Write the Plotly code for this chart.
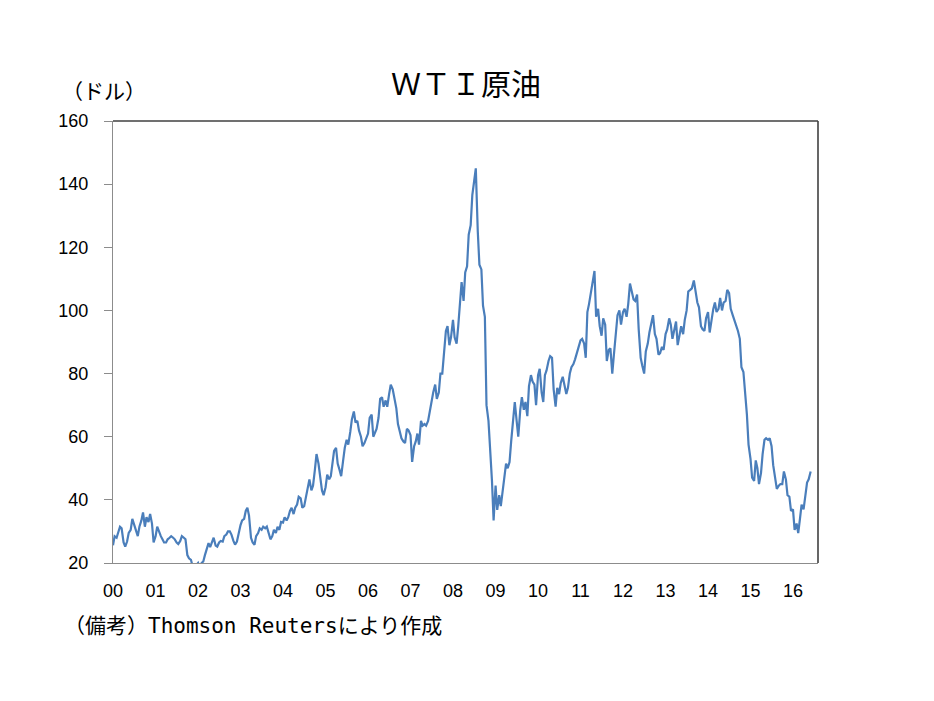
import pandas as pd
import plotly.graph_objects as go

# Semi-monthly WTI prices (1st and 15th of each month), USD/bbl
y2000 = [25.6, 28.5, 28.0, 29.8, 31.5, 31.0, 26.5, 25.2, 26.8, 29.5, 30.5, 34.0,
         32.0, 30.0, 28.5, 31.5, 33.5, 36.0, 31.5, 34.5, 33.0, 35.5, 32.5, 26.5]
y2001 = [28.5, 31.5, 29.5, 28.5, 27.5, 26.5, 26.5, 27.5, 28.0, 28.5, 28.0, 27.5,
         26.5, 26.0, 27.0, 28.5, 28.0, 27.5, 22.5, 21.5, 21.0, 19.0, 19.5, 19.3]
y2002 = [20.0, 18.5, 20.0, 20.5, 22.5, 24.5, 26.3, 25.0, 26.5, 28.0, 25.5, 25.2,
         26.5, 27.0, 26.8, 28.5, 29.0, 30.0, 30.0, 29.0, 27.0, 25.8, 26.8, 29.5]
y2003 = [32.0, 33.5, 34.0, 36.5, 37.5, 35.0, 28.0, 26.5, 25.8, 28.5, 29.5, 31.0,
         30.5, 31.5, 31.0, 31.5, 29.5, 27.5, 28.5, 30.5, 29.5, 31.5, 30.5, 33.0]
y2004 = [32.8, 34.5, 33.5, 34.5, 36.5, 37.5, 35.5, 37.5, 38.5, 41.0, 40.5, 37.5,
         38.0, 40.5, 43.5, 46.5, 43.0, 44.5, 49.5, 54.5, 51.5, 47.5, 43.0, 41.5]
y2005 = [44.0, 48.0, 46.5, 47.5, 52.0, 55.5, 56.5, 51.5, 49.5, 47.5, 52.5, 56.5,
         59.0, 57.5, 61.5, 65.5, 68.0, 64.5, 65.0, 62.0, 60.0, 57.0, 58.0, 59.5]
y2006 = [61.0, 66.0, 67.0, 60.0, 61.5, 62.5, 66.0, 72.0, 72.5, 69.5, 71.5, 69.5,
         73.5, 76.5, 75.0, 72.0, 69.0, 64.0, 61.0, 59.5, 58.5, 58.0, 62.5, 62.0]
y2007 = [60.5, 52.0, 57.0, 58.5, 61.0, 57.5, 65.0, 63.5, 64.0, 63.5, 65.0, 68.0,
         70.5, 74.0, 76.5, 72.0, 74.0, 80.0, 80.0, 86.5, 93.5, 95.0, 89.0, 91.5]
y2008 = [97.0, 91.5, 89.5, 95.0, 101.5, 109.0, 103.0, 112.0, 114.0, 124.0, 127.0, 136.5,
         141.0, 145.0, 125.0, 114.5, 113.0, 101.5, 98.0, 70.0, 65.0, 57.0, 46.0, 33.5]
y2009 = [44.5, 36.8, 41.5, 38.0, 42.0, 47.0, 51.5, 50.0, 52.0, 58.5, 66.0, 71.0,
         65.0, 60.0, 68.5, 72.5, 68.5, 71.0, 66.5, 76.0, 79.5, 77.5, 76.5, 70.0]
y2010 = [79.5, 81.5, 74.0, 71.0, 79.5, 81.0, 84.0, 85.5, 85.0, 75.0, 69.5, 75.5,
         73.5, 77.0, 79.0, 76.0, 73.5, 75.5, 80.0, 82.0, 83.0, 84.5, 86.5, 88.5]
y2011 = [90.5, 91.0, 89.5, 85.0, 99.5, 102.0, 106.0, 109.0, 112.5, 98.0, 100.5, 95.0,
         92.0, 97.5, 95.5, 84.0, 87.5, 88.0, 80.0, 86.0, 92.5, 98.5, 100.0, 95.5]
y2012 = [99.5, 100.5, 98.0, 102.0, 108.5, 106.5, 103.5, 103.0, 105.0, 94.0, 85.0, 82.5,
         80.0, 87.0, 89.5, 93.0, 96.0, 98.5, 92.5, 91.0, 86.0, 86.5, 88.5, 87.5]
y2013 = [92.5, 94.0, 97.5, 95.5, 91.0, 93.5, 96.5, 89.0, 92.0, 95.0, 92.5, 97.0,
         100.0, 106.0, 106.5, 107.0, 109.5, 106.5, 102.5, 101.0, 95.0, 94.0, 93.5, 97.5]
y2014 = [99.5, 93.0, 97.5, 100.5, 102.5, 99.5, 100.5, 104.0, 100.0, 102.5, 103.0, 106.5,
         105.5, 100.5, 98.5, 97.0, 94.5, 93.5, 91.0, 82.0, 80.5, 75.0, 67.0, 57.5]
y2015 = [53.0, 47.0, 46.0, 52.5, 50.0, 45.0, 48.5, 54.5, 59.0, 59.5, 59.0, 59.5,
         57.0, 51.0, 47.0, 43.5, 44.5, 45.0, 45.0, 49.0, 46.5, 41.5, 41.0, 36.5]
y2016 = [37.0, 30.5, 32.5, 29.5, 34.0, 38.5, 37.0, 41.0, 45.5, 46.5, 49.0]

prices = (y2000 + y2001 + y2002 + y2003 + y2004 + y2005 + y2006 + y2007 + y2008 +
          y2009 + y2010 + y2011 + y2012 + y2013 + y2014 + y2015 + y2016)
dates = pd.date_range(start="2000-01-01", end="2016-06-01", freq="SMS")
assert len(dates) == len(prices), (len(dates), len(prices))

year_ticks = [f"{y}-01-01" for y in range(2000, 2017)]
year_labels = [f"{y % 100:02d}" for y in range(2000, 2017)]

title_text = "ＷＴＩ原油"
unit_text = "（ドル）"
note_text = ("（備考）<span style=\"font-family:'DejaVu Sans Mono'\">Thomson Reuters</span>"
             "により作成")

JP = "Noto Sans CJK JP"
NUM = "Liberation Sans, Arial, sans-serif"

fig = go.Figure()
fig.add_trace(go.Scatter(
    x=dates, y=prices, mode="lines",
    line=dict(color="#4a7ebb", width=2.2),
    showlegend=False, hoverinfo="x+y"))

fig.update_layout(
    width=934, height=701,
    margin=dict(l=113, r=116, t=121, b=138),
    paper_bgcolor="white", plot_bgcolor="white",
    font=dict(family=NUM, color="#000000"),
    xaxis=dict(
        type="date", range=["2000-01-01", "2016-08-03"],
        tickmode="array", tickvals=year_ticks, ticktext=year_labels,
        showgrid=False, zeroline=False, showline=True, linecolor="#8c8c8c",
        linewidth=1.3, ticks="", ticklabelstandoff=11,
        tickfont=dict(family=NUM, size=18, color="#000"),
    ),
    yaxis=dict(
        range=[20, 160], dtick=20, tick0=20,
        showgrid=False, zeroline=False, showline=True, linecolor="#8c8c8c",
        linewidth=1.3, ticks="outside", ticklen=8, tickcolor="#8c8c8c",
        tickwidth=1.2, ticklabelstandoff=12,
        tickfont=dict(family=NUM, size=18, color="#000"),
    ),
    shapes=[
        dict(type="line", xref="paper", yref="paper", x0=0, x1=1, y0=1, y1=1,
             line=dict(color="#404040", width=1.6)),
        dict(type="line", xref="paper", yref="paper", x0=1, x1=1, y0=0, y1=1,
             line=dict(color="#404040", width=1.6)),
    ],
    annotations=[
        dict(text=title_text, xref="paper", yref="paper", x=0.5007, y=1.088,
             xanchor="center", yanchor="middle", showarrow=False,
             font=dict(family=JP, size=30, color="#000")),
        dict(text=unit_text, xref="paper", yref="paper", x=-0.0745, y=1.07,
             xanchor="left", yanchor="middle", showarrow=False,
             font=dict(family=JP, size=21, color="#000")),
        dict(text=note_text, xref="paper", yref="paper", x=-0.072, y=-0.138,
             xanchor="left", yanchor="middle", showarrow=False,
             font=dict(family=JP, size=21, color="#000")),
    ],
)

fig.write_html("out.html")
